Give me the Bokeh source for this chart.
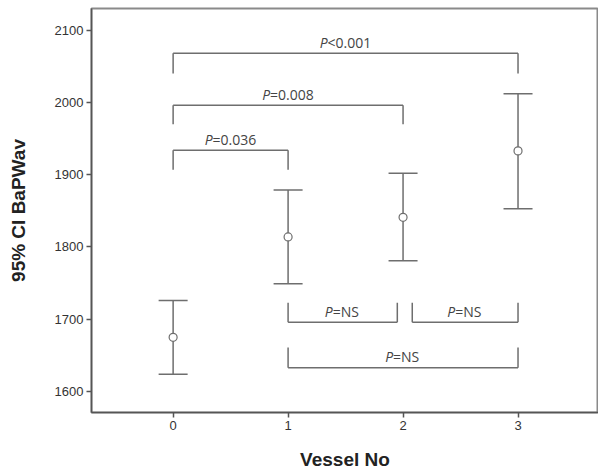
from bokeh.plotting import figure
from bokeh.models import ColumnDataSource, Whisker, TeeHead, Range1d, FixedTicker
from bokeh.core.properties import value
from bokeh.embed import file_html
from bokeh.resources import INLINE

# data
vessel = [0, 1, 2, 3]
mean_val = [1675, 1814, 1841, 1933]
ci_upper = [1726, 1879, 1902, 2012]
ci_lower = [1624, 1749, 1781, 1853]

# comparisons: top brackets (legs down), bottom brackets (legs up)
top_x0 = [0, 0, 0]
top_x1 = [1, 2, 3]
top_bar = [1934, 1996, 2068]
top_tip = [1907, 1970, 2040]
top_text = ["=0.036", "=0.008", "<0.001"]

bot_x0 = [1, 2.08, 1]
bot_x1 = [1.95, 3, 3]
bot_bar = [1696, 1696, 1633]
bot_tip = [1723, 1723, 1661]
bot_text = ["=NS", "=NS", "=NS"]

y_ticks = [1600, 1700, 1800, 1900, 2000, 2100]

GREY = "#6e6e6e"
AXIS = "#555555"

p = figure(width=598, height=472, output_backend="svg", toolbar_location=None,
           x_range=Range1d(-0.71, 3.7), y_range=Range1d(1571, 2130),
           min_border_left=91, min_border_right=0, min_border_top=8, min_border_bottom=59)
p.outline_line_color = "#8a8a8a"
p.outline_line_width = 2
p.grid.visible = False
p.background_fill_color = "white"
p.border_fill_color = "white"

bx = p.below[0]
ly = p.left[0]

for ax in (bx, ly):
    ax.axis_line_color = AXIS
    ax.axis_line_width = 1.5
    ax.major_tick_line_color = AXIS
    ax.major_tick_line_width = 1.5
    ax.major_tick_out = 5
    ax.major_tick_in = 0
    ax.minor_tick_line_color = None
    ax.major_label_text_font = "Liberation Sans"
    ax.major_label_text_font_size = "13px"
    ax.major_label_text_color = "#333333"
    ax.major_label_standoff = 3
    ax.axis_label_text_font = "Liberation Sans"
    ax.axis_label_text_font_style = "bold"
    ax.axis_label_text_font_size = "19px"
    ax.axis_label_text_color = "#222222"

bx.ticker = FixedTicker(ticks=vessel)
ly.ticker = FixedTicker(ticks=y_ticks)
bx.axis_label = "Vessel No"
ly.axis_label = "95% CI BaPWav"
bx.axis_label_standoff = 16
ly.axis_label_standoff = 23

src = ColumnDataSource(dict(x=vessel, m=mean_val, up=ci_upper, lo=ci_lower))
w = Whisker(source=src, base="x", upper="up", lower="lo", line_color=GREY, line_width=1.5,
            upper_head=TeeHead(size=29, line_color=GREY, line_width=1.5),
            lower_head=TeeHead(size=29, line_color=GREY, line_width=1.5))
p.add_layout(w)
p.scatter("x", "m", source=src, size=8, fill_color="white", line_color=GREY, line_width=1.2)

def brackets(x0, x1, bar, tip, texts, label_off):
    s = ColumnDataSource(dict(x0=x0, x1=x1, bar=bar, tip=tip,
                              xc=[(a + b) / 2 for a, b in zip(x0, x1)], t=texts))
    p.segment("x0", "bar", "x1", "bar", source=s, line_color=GREY, line_width=1.5)
    p.segment("x0", "bar", "x0", "tip", source=s, line_color=GREY, line_width=1.5)
    p.segment("x1", "bar", "x1", "tip", source=s, line_color=GREY, line_width=1.5)
    p.text("xc", "bar", text=value("P"), source=s, text_font=value("Open Sans"),
           text_font_style="italic", text_font_size="14px", text_color="#444444",
           text_align="right", text_baseline="middle", x_offset=label_off, y_offset=-11)
    p.text("xc", "bar", text="t", source=s, text_font=value("Open Sans"),
           text_font_size="14px", text_color="#444444",
           text_align="left", text_baseline="middle", x_offset=label_off, y_offset=-11)

brackets(top_x0, top_x1, top_bar, top_tip, top_text, -18)
brackets(bot_x0, bot_x1, bot_bar, bot_tip, bot_text, -10)

open("out.html", "w").write(file_html(p, INLINE))
